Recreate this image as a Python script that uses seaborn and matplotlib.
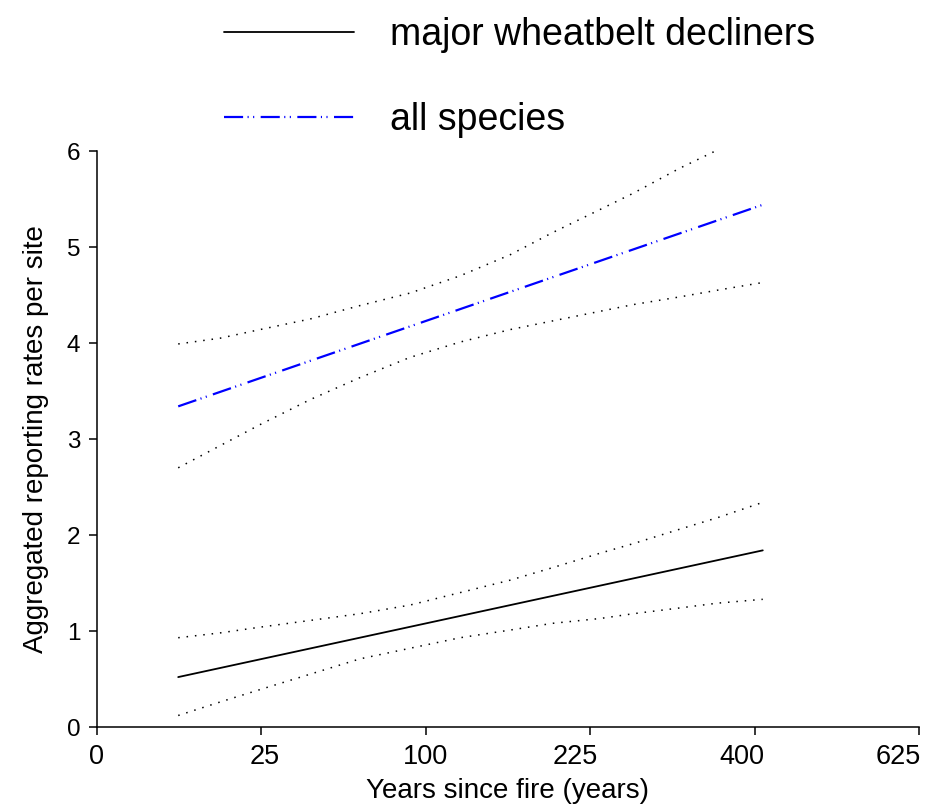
import numpy as np
import pandas as pd
import matplotlib
matplotlib.use("Agg")
import matplotlib.pyplot as plt
import matplotlib.transforms as mtransforms
import seaborn as sns

# Fitted (straight in sqrt-years) mean lines: end points
mean_years = [6.1, 410]
all_mean = [3.34, 5.44]
dec_mean = [0.52, 1.84]

# Confidence limits read at these years since fire
years = [6.1, 14, 24.6, 42, 64, 90.6, 122, 158, 192, 234, 266, 314, 356, 410]
all_upper = [3.99, 4.05, 4.14, 4.25, 4.39, 4.52, 4.70, 4.92, 5.15, 5.39, 5.56, 5.82, 6.01, 6.27]
all_lower = [2.70, 2.93, 3.15, 3.41, 3.64, 3.85, 4.01, 4.14, 4.23, 4.33, 4.40, 4.48, 4.55, 4.63]
dec_upper = [0.93, 0.98, 1.04, 1.11, 1.18, 1.27, 1.40, 1.53, 1.66, 1.81, 1.91, 2.06, 2.18, 2.34]
dec_lower = [0.12, 0.26, 0.39, 0.55, 0.71, 0.82, 0.93, 1.01, 1.08, 1.13, 1.18, 1.24, 1.29, 1.33]

x_ticks = [0, 25, 100, 225, 400, 625]
y_ticks = [0, 1, 2, 3, 4, 5, 6]
series_labels = ["major wheatbelt decliners", "all species"]

sns.set_style("ticks")
plt.rcParams["font.family"] = ["Liberation Sans", "DejaVu Sans"]
plt.rcParams["text.color"] = "black"
plt.rcParams["axes.labelcolor"] = "black"

fig = plt.figure(figsize=(9.4, 8.06), dpi=100)
ax = fig.add_axes([97 / 940, 1 - 727 / 806, (919 - 97) / 940, (727 - 151) / 806])

ax.set_xscale("function", functions=(lambda v: np.sqrt(np.clip(v, 0, None)), np.square))

dot = (0, (1, 4.5))
dashdotdot = (0, (8.6, 2, 0.5, 2, 0.5, 2.9))

sns.lineplot(x=mean_years, y=dec_mean, ax=ax, color="black", lw=1.3, label=series_labels[0])
sns.lineplot(x=mean_years, y=all_mean, ax=ax, color="#0000ff", lw=1.6, linestyle=dashdotdot,
             label=series_labels[1])
for arr in (all_upper, all_lower, dec_upper, dec_lower):
    sns.lineplot(x=years, y=arr, ax=ax, color="black", lw=1.1, linestyle=dot)

ax.set_xlim(0, 625)
ax.set_ylim(0, 6)
ax.set_xticks(x_ticks)
ax.set_xticklabels([str(t) for t in x_ticks])
ax.set_yticks(y_ticks)
ax.set_yticklabels([str(t) for t in y_ticks])
ax.tick_params(axis="x", direction="out", length=6, width=1.1, labelsize=19.5, pad=6,
               colors="black")
ax.tick_params(axis="y", direction="out", length=6, width=1.1, labelsize=17.5, pad=6,
               colors="black")
# horizontal nudges of x tick labels as in the reference
x_label_shift = [0, 3, 0, -15, -13, -21]
for lab, dx in zip(ax.get_xticklabels(), x_label_shift):
    lab.set_transform(lab.get_transform() +
                      mtransforms.ScaledTranslation(dx / 100, 0, fig.dpi_scale_trans))

for s in ("top", "right"):
    ax.spines[s].set_visible(False)
for s in ("left", "bottom"):
    ax.spines[s].set_linewidth(1.1)
    ax.spines[s].set_color("black")

ax.set_xlabel("Years since fire (years)", fontsize=20, labelpad=6)
ax.set_ylabel("Aggregated reporting rates per site", fontsize=20, labelpad=13)

h, l = ax.get_legend_handles_labels()
ax.legend_.remove()
fig.legend(h, l, loc="upper left", bbox_to_anchor=(224 / 940, 1 - 17 / 806),
           frameon=False, fontsize=27, handlelength=3.47, handletextpad=0.96,
           labelspacing=1.3, borderpad=0, borderaxespad=0)

fig.savefig("out.png", dpi=100)
